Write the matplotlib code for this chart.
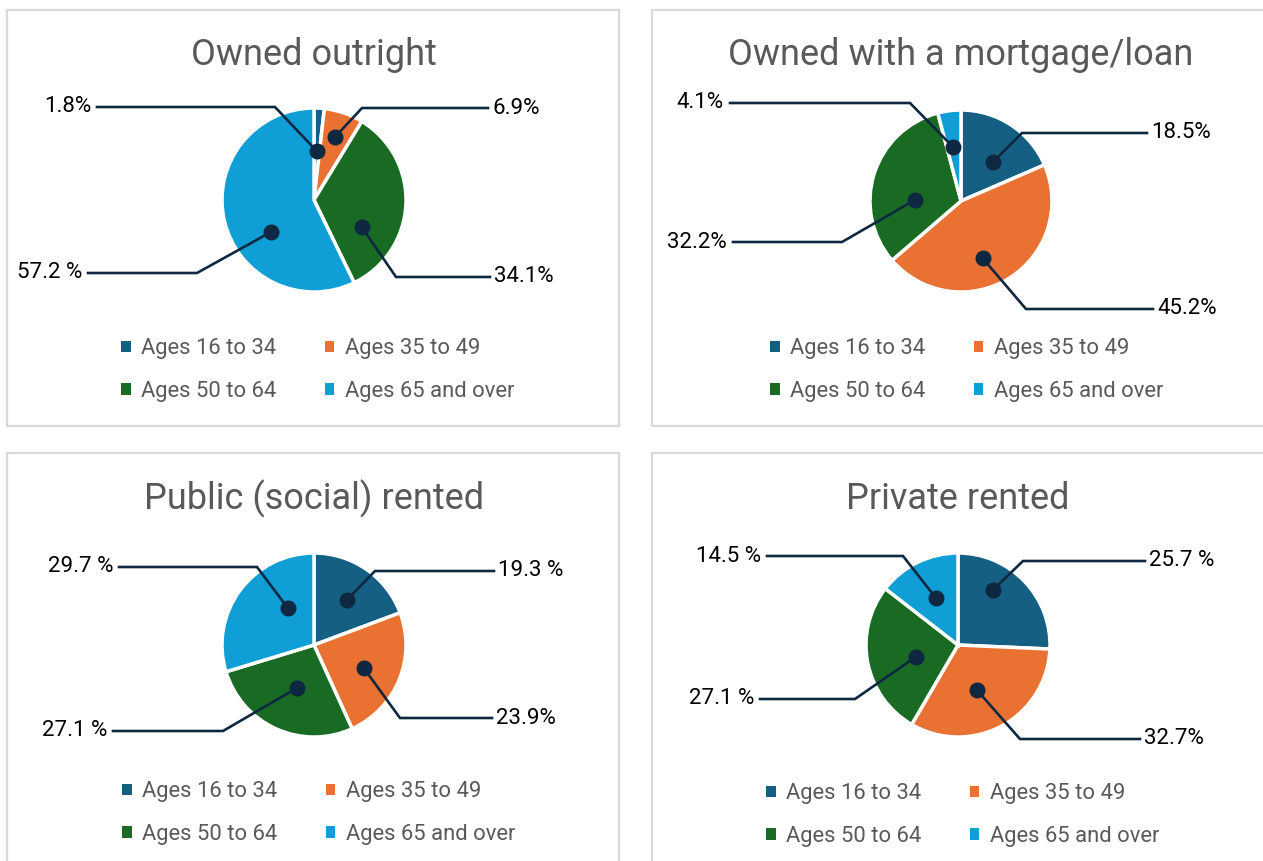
import matplotlib
matplotlib.use("Agg")
import matplotlib.pyplot as plt
from matplotlib.patches import Rectangle, Patch
import numpy as np

plt.rcParams['font.family'] = ['Roboto', 'DejaVu Sans']

# Data
categories = ['Ages 16 to 34', 'Ages 35 to 49', 'Ages 50 to 64', 'Ages 65 and over']
colors = ['#156082', '#E97132', '#196B24', '#0F9ED5']

titles = ['Owned outright', 'Owned with a mortgage/loan',
          'Public (social) rented', 'Private rented']
owned_outright = [1.8, 6.9, 34.1, 57.2]
owned_mortgage = [18.5, 45.2, 32.2, 4.1]
social_rented = [19.3, 23.9, 27.1, 29.7]
private_rented = [25.7, 32.7, 27.1, 14.5]
series = [owned_outright, owned_mortgage, social_rented, private_rented]

# the source writes some labels with a space before the % sign
label_text = [
    ['1.8%', '6.9%', '34.1%', '57.2 %'],
    ['18.5%', '45.2%', '32.2%', '4.1%'],
    ['19.3 %', '23.9%', '27.1 %', '29.7 %'],
    ['25.7 %', '32.7%', '27.1 %', '14.5 %'],
]

# Layout (pixels, y measured from the top)
W, H = 1263, 861
panels = [
    dict(box=(7, 10, 619, 426), center=(314, 200), r=92, title=(314, 55), legend=(318, 370)),
    dict(box=(652, 10, 1275, 426), center=(961, 201), r=91, title=(961, 55), legend=(967, 370)),
    dict(box=(7, 453, 619, 875), center=(314, 645), r=92, title=(314, 499), legend=(319, 813)),
    dict(box=(652, 453, 1275, 875), center=(958, 645), r=92, title=(958, 499), legend=(963, 815)),
]
# dot placement inside each slice: (fraction along slice, fraction of radius)
dot_pos = [
    [(0.54, 0.53), (0.48, 0.72), (0.72, 0.60), (0.385, 0.58)],
    [(0.59, 0.55), (0.57, 0.67), (0.36, 0.51), (0.43, 0.60)],
    [(0.52, 0.61), (0.53, 0.60), (0.47, 0.50), (0.67, 0.49)],
    [(0.35, 0.71), (0.55, 0.53), (0.45, 0.48), (0.52, 0.56)],
]
# leader lines: (elbow x, label y, line end x)
leaders = [
    [(275, 107, 97), (362, 108, 488), (396, 277, 490), (197, 273, 88)],
    [(1022, 133, 1147), (1026, 309, 1153), (842, 242, 733), (910, 103, 730)],
    [(375, 571, 494), (400, 718, 492), (223, 731, 113), (257, 567, 119)],
    [(1023, 561, 1145), (1020, 739, 1140), (855, 699, 760), (903, 556, 767)],
]

navy = '#0E2841'
grey = '#595959'


def Y(y):
    return H - y


fig = plt.figure(figsize=(W / 100, H / 100), dpi=100)
ax = fig.add_axes([0, 0, 1, 1])

# legend fills column by column, the source reads row by row
order = [0, 2, 1, 3]
handles = [Patch(facecolor=colors[i], edgecolor='none') for i in order]
leg_labels = [categories[i] for i in order]

for p, values, labels, dots, lead, title in zip(panels, series, label_text,
                                                 dot_pos, leaders, titles):
    x0, y0, x1, y1 = p['box']
    ax.add_patch(Rectangle((x0, Y(y1)), x1 - x0, y1 - y0, fill=False,
                           edgecolor='#D9D9D9', lw=1.6, zorder=0))

    cx, cy = p['center']
    r = p['r']
    ax.pie(values, colors=colors, startangle=90, counterclock=False,
           center=(cx, Y(cy)), radius=r, frame=True,
           wedgeprops=dict(edgecolor='white', linewidth=2.5))

    tx, ty = p['title']
    ax.text(tx, Y(ty), title, ha='center', va='center', fontsize=26, color=grey)

    total = sum(values)
    cum = 0
    for v, lab, (t, rf), (ex, ly, endx) in zip(values, labels, dots, lead):
        ang = np.deg2rad(90 - 360 * (cum + t * v) / total)
        cum += v
        dx = cx + rf * r * np.cos(ang)
        dy = Y(cy) + rf * r * np.sin(ang)
        ax.plot([dx, ex, endx], [dy, Y(ly), Y(ly)], color=navy, lw=1.9,
                solid_joinstyle='miter', zorder=3)
        ax.plot(dx, dy, 'o', ms=10.5, color=navy, zorder=4)
        if endx > ex:
            ax.text(endx + 4, Y(ly), lab, ha='left', va='center',
                    fontsize=16, color='black')
        else:
            ax.text(endx - 6, Y(ly), lab, ha='right', va='center',
                    fontsize=16, color='black')

    lx, lyy = p['legend']
    fig.legend(handles, leg_labels, ncol=2, loc='center',
               bbox_to_anchor=(lx / W, 1 - lyy / H), frameon=False,
               fontsize=15.8, labelcolor=grey, handlelength=0.42,
               handleheight=0.42, handletextpad=0.5, columnspacing=2.2,
               labelspacing=1.0)

ax.set_xlim(0, W)
ax.set_ylim(0, H)
ax.set_aspect('equal')
ax.axis('off')

fig.savefig('out.png', dpi=100)
